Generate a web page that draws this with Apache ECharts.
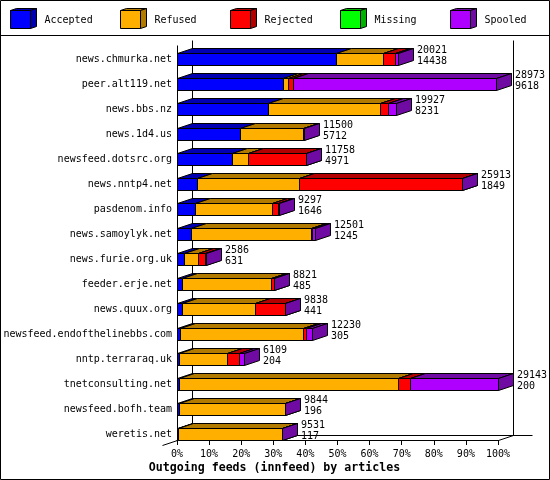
<!DOCTYPE html>
<html>
<head>
<meta charset="utf-8">
<style>html,body{margin:0;padding:0;background:#fff}#main{width:550px;height:480px}</style>
<script src="https://cdn.jsdelivr.net/npm/echarts@6/dist/echarts.min.js"></script>
</head>
<body>
<div id="main"></div>
<script>
var hosts = ['news.chmurka.net','peer.alt119.net','news.bbs.nz','news.1d4.us','newsfeed.dotsrc.org','news.nntp4.net','pasdenom.info','news.samoylyk.net','news.furie.org.uk','feeder.erje.net','news.quux.org','newsfeed.endofthelinebbs.com','nntp.terraraq.uk','tnetconsulting.net','newsfeed.bofh.team','weretis.net'];
// share of the biggest feed, in percent
var accepted = [49.5,33.0,28.2,19.6,17.1,6.3,5.6,4.3,2.2,1.7,1.5,1.0,0.7,0.7,0.7,0.4];
var refused  = [14.8,1.55,34.9,19.8,4.9,31.8,24.1,37.4,4.2,27.5,22.9,38.2,14.8,68.3,32.9,32.2];
var rejected = [3.7,1.45,2.7,0,18.2,50.7,1.9,0.5,2.3,0.9,9.1,0.9,3.9,3.7,0,0];
var missing  = [0,0,0,0,0,0,0,0,0,0,0,0,0,0,0,0];
var spooled  = [0.7,63.4,2.5,0.1,0.1,0.1,0.3,0.7,0.2,0.2,0.3,1.9,1.6,27.3,0.2,0.1];
var totalLabels = ['20021','28973','19927','11500','11758','25913','9297','12501','2586','8821','9838','12230','6109','29143','9844','9531'];
var acceptedLabels = ['14438','9618','8231','5712','4971','1849','1646','1245','631','485','441','305','204','200','196','117'];
var tickValues = [0,10,20,30,40,50,60,70,80,90,100];

var legendNames = ['Accepted','Refused','Rejected','Missing','Spooled'];
var fronts = ['#0000ff','#ffaf00','#ff0000','#00ff00','#af00ff'];
var darks  = ['#0000b2','#b27b00','#b20000','#00b200','#6f0aa3'];
var allValues = [accepted,refused,rejected,missing,spooled];

var mono = '"DejaVu Sans Mono", monospace';
var gridLeft = 177, gridRight = 498, axisY = 440, topY = 40, dx = 15, dy = 5;

function snap(v){ return Math.round(v) + 0.5; }

var sums = hosts.map(function(){ return 0; });
var series = [];

allValues.forEach(function(vals, k){
  var data = [];
  vals.forEach(function(v, i){
    if (v > 0) data.push([i, sums[i], sums[i] + v]);
    sums[i] += v;
  });
  series.push({
    type: 'custom',
    name: legendNames[k],
    z: 5 + k,
    silent: true,
    clip: false,
    encode: {x: [1, 2], y: 0},
    data: data,
    renderItem: function(params, api){
      var a = api.coord([api.value(1), api.value(0)]);
      var b = api.coord([api.value(2), api.value(0)]);
      var x0 = snap(a[0]), x1 = snap(b[0]);
      var y0 = Math.floor(a[1]) - 6 + 0.5, y1 = y0 + 12;
      return {type: 'group', children: [
        {type: 'polygon', shape: {points: [[x0,y0],[x0+dx,y0-dy],[x1+dx,y0-dy],[x1,y0]]}, style: {fill: darks[k], stroke: '#000', lineWidth: 1}},
        {type: 'polygon', shape: {points: [[x1,y0],[x1+dx,y0-dy],[x1+dx,y1-dy],[x1,y1]]}, style: {fill: darks[k], stroke: '#000', lineWidth: 1}},
        {type: 'rect', shape: {x: x0, y: y0, width: x1 - x0, height: 12}, style: {fill: fronts[k], stroke: '#000', lineWidth: 1}}
      ]};
    }
  });
});

// the two numbers at the end of each bar
series.push({
  type: 'custom',
  name: 'labels',
  z: 20,
  silent: true,
  clip: false,
  encode: {x: 1, y: 0},
  data: hosts.map(function(h, i){ return [i, sums[i]]; }),
  renderItem: function(params, api){
    var p = api.coord([api.value(1), api.value(0)]);
    var i = params.dataIndex;
    return {type: 'text', x: Math.round(p[0]) + 19, y: Math.floor(p[1]) - 14,
      style: {text: totalLabels[i] + '\n' + acceptedLabels[i], font: '10px ' + mono, lineHeight: 11, fill: '#000', textAlign: 'left', textVerticalAlign: 'top'}};
  }
});

function hline(x1, y1, x2, y2){
  return {type: 'line', z: 1, silent: true, shape: {x1: x1 + .5, y1: y1 + .5, x2: x2 + .5, y2: y2 + .5}, style: {stroke: '#000', lineWidth: 1}};
}

var graphics = [
  {type: 'rect', z: 30, silent: true, shape: {x: .5, y: .5, width: 549, height: 479}, style: {fill: null, stroke: '#000', lineWidth: 1}},
  hline(0, 35, 549, 35),
  hline(gridLeft, topY + 5, gridLeft, axisY),
  hline(gridLeft + dx, topY, gridLeft + dx, axisY - dy),
  hline(gridRight + dx, topY, gridRight + dx, axisY - dy),
  hline(gridLeft + dx, axisY - dy, 532, axisY - dy),
  hline(gridLeft - dx, axisY + dy, gridLeft, axisY),
  hline(gridRight, axisY, gridRight + dx, axisY - dy)
];

legendNames.forEach(function(name, k){
  var x = 10 + 110 * k + .5, y = 10.5, w = 20, h = 18, ox = 6, oy = 2;
  graphics.push(
    {type: 'polygon', silent: true, shape: {points: [[x,y],[x+ox,y-oy],[x+w+ox,y-oy],[x+w,y]]}, style: {fill: darks[k], stroke: '#000'}},
    {type: 'polygon', silent: true, shape: {points: [[x+w,y],[x+w+ox,y-oy],[x+w+ox,y+h-oy],[x+w,y+h]]}, style: {fill: darks[k], stroke: '#000'}},
    {type: 'rect', silent: true, shape: {x: x, y: y, width: w, height: h}, style: {fill: fronts[k], stroke: '#000'}},
    {type: 'text', silent: true, x: x + 34, y: 20, style: {text: name, font: '10px ' + mono, fill: '#000', textVerticalAlign: 'middle'}}
  );
});

var myChart = echarts.init(document.getElementById('main'), null, {renderer: 'canvas'});
myChart.setOption({
  animation: false,
  backgroundColor: '#fff',
  title: {
    text: 'Outgoing feeds (innfeed) by articles',
    left: 274.5, top: 462, textAlign: 'center', padding: 0,
    textStyle: {color: '#000', fontFamily: mono, fontSize: 11.6, fontWeight: 'bold'}
  },
  grid: {left: gridLeft, width: gridRight - gridLeft, top: 47, height: 400, containLabel: false},
  xAxis: {
    type: 'value', min: tickValues[0], max: tickValues[tickValues.length - 1], interval: 10,
    position: 'bottom', offset: -7,
    axisLine: {show: true, onZero: false, lineStyle: {color: '#000', width: 1}},
    axisTick: {show: true, length: 5, lineStyle: {color: '#000', width: 1}},
    axisLabel: {margin: 8, padding: [1, 0, 0, 0], color: '#000', fontFamily: mono, fontSize: 10, formatter: '{value}%'},
    splitLine: {show: false}
  },
  yAxis: {
    type: 'category', inverse: true, data: hosts,
    axisLine: {show: false}, axisTick: {show: false},
    axisLabel: {margin: 5, padding: [2, 0, 0, 0], color: '#000', fontFamily: mono, fontSize: 10, interval: 0},
    splitLine: {show: false}
  },
  graphic: graphics,
  series: series
});
</script>
</body>
</html>
